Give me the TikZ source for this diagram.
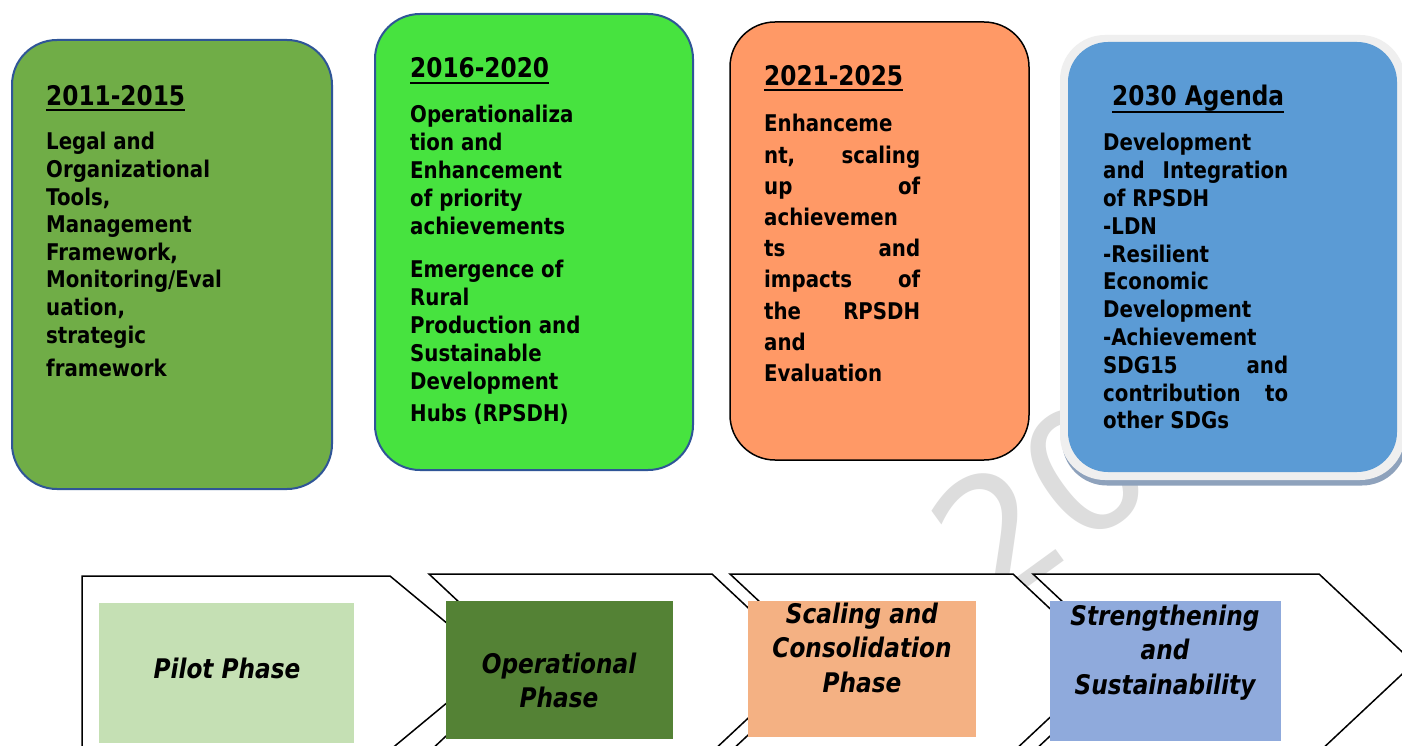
\documentclass[tikz,border=0pt]{standalone}
\usepackage{fontspec}
\setmainfont{DejaVu Sans}[FakeStretch=0.86]
\newfontfamily\wmfont{DejaVu Sans}
\definecolor{cBoxA}{HTML}{70AD47}
\definecolor{cBoxB}{HTML}{47E33F}
\definecolor{cBoxC}{HTML}{FF9966}
\definecolor{cBoxD}{HTML}{5B9BD5}
\definecolor{cEdge}{HTML}{2F5597}
\definecolor{cRim}{HTML}{EFEFEF}
\definecolor{cShadow}{HTML}{8EA2BC}
\definecolor{cPhA}{HTML}{C5E0B4}
\definecolor{cPhB}{HTML}{548235}
\definecolor{cPhC}{HTML}{F4B183}
\definecolor{cPhD}{HTML}{8FAADC}
\definecolor{cWm}{HTML}{DDDDDD}
\begin{document}
\begin{tikzpicture}[x=1pt,y=-1pt,
  card/.style={rectangle, rounded corners=45pt, inner sep=0pt, line width=2pt},
  chev/.style={draw=black, fill=white, line width=1.5pt, line join=miter},
  phasebox/.style={rectangle, inner sep=0pt, draw=none},
  phasetxt/.style={anchor=base, inner sep=0pt, font=\bfseries\itshape\fontsize{27}{34.5}\selectfont},
  ttl/.style={anchor=base west, inner sep=0pt, font=\bfseries\fontsize{27}{32}\selectfont},
  bodytxt/.style={anchor=base west, inner sep=0pt, font=\bfseries},
  uline/.style={line width=2pt}]
\useasboundingbox (0,0) rectangle (1402,746);
\clip (0,0) rectangle (1402,746);
\fill[white] (0,0) rectangle (1402,746);

% watermark
\node[anchor=base west, inner sep=0pt, rotate=36, text=cWm, font=\wmfont\fontsize{170}{170}\selectfont] (wm) at (990,615) {20};

% cards
\node[card, fill=cBoxA, draw=cEdge, minimum width=320pt, minimum height=449pt] (b1) at (172,264.5) {};
\node[card, fill=cBoxB, draw=cEdge, minimum width=318pt, minimum height=456pt] (b2) at (534,242) {};
\node[card, fill=cBoxC, draw=black, line width=1.5pt, minimum width=299pt, minimum height=438pt] (b3) at (879.5,241) {};
\node[card, fill=cShadow, minimum width=345pt, minimum height=445pt] (b4s) at (1234.5,263) {};
\node[card, fill=cRim, minimum width=345pt, minimum height=445pt] (b4r) at (1232.5,257.5) {};
\node[card, rounded corners=40pt, fill=cBoxD, minimum width=329pt, minimum height=430pt] (b4) at (1232.5,257) {};

% titles
\node[ttl] (t1) at (46,106) {2011-2015};
\node[ttl] (t2) at (410,78) {2016-2020};
\node[ttl] (t3) at (764,86) {2021-2025};
\node[ttl] (t4) at (1112,106) {2030 Agenda};
\draw[uline] ([yshift=-4pt]t1.base west) -- ([yshift=-4pt]t1.base east);
\draw[uline] ([yshift=-5pt]t2.base west) -- ([yshift=-5pt]t2.base east);
\draw[uline] ([yshift=-4pt]t3.base west) -- ([yshift=-4pt]t3.base east);
\draw[uline] ([yshift=-6pt]t4.base west) -- ([yshift=-6pt]t4.base east);

% bodies
\node[bodytxt] (d1) at (46,150) {\parbox[t]{270pt}{\raggedright\fontsize{23}{27.6}\selectfont
Legal and\\ Organizational\\ Tools,\\ Management\\ Framework,\\ Monitoring/Eval\\ uation,\\ strategic\\[6pt] framework}};
\node[bodytxt] (d2) at (410,123) {\parbox[t]{270pt}{\raggedright\fontsize{23}{28}\selectfont
Operationaliza\\ tion and\\ Enhancement\\ of priority\\ achievements\\[15pt]
Emergence of\\ Rural\\ Production and\\ Sustainable\\ Development\\[4pt] Hubs (RPSDH)}};
\node[bodytxt] (d3) at (764,132) {\parbox[t]{156pt}{\raggedright\fontsize{23}{31.2}\selectfont
Enhanceme\\ nt,\hfill scaling\\ up\hfill of\\ achievemen\\ ts\hfill and\\ impacts\hfill of\\ the\hfill RPSDH\\ and\\ Evaluation}};
\node[bodytxt] (d4) at (1103,151) {\parbox[t]{185pt}{\raggedright\fontsize{23}{27.8}\selectfont
Development\\ and\hfill Integration\\ of RPSDH\\ -LDN\\ -Resilient\\ Economic\\ Development\\ -Achievement\\ SDG15\hfill and\\ contribution\hfill to\\ other SDGs}};

% chevrons
\draw[chev] (82,760) -- (82,576) -- (390,576) -- (495,663) -- (390,750) -- (82,750);
\draw[chev] (429,574) -- (712,574) -- (807,663) -- (712,752) -- (429,752) -- (524,663) -- cycle;
\draw[chev] (730,574) -- (1013,574) -- (1108,663) -- (1013,752) -- (730,752) -- (825,663) -- cycle;
\draw[chev] (1033,574) -- (1319,574) -- (1414,663) -- (1319,752) -- (1033,752) -- (1128,663) -- cycle;

% phase boxes
\node[phasebox, fill=cPhA, minimum width=255pt, minimum height=140pt] (p1) at (226.5,673) {};
\node[phasebox, fill=cPhB, minimum width=227pt, minimum height=138pt] (p2) at (559.5,670) {};
\node[phasebox, fill=cPhC, minimum width=228pt, minimum height=136pt] (p3) at (862,669) {};
\node[phasebox, fill=cPhD, minimum width=231pt, minimum height=140pt] (p4) at (1165.5,671) {};

\node[phasetxt] (q1) at (227,678) {\parbox[t]{250pt}{\centering Pilot Phase}};
\node[phasetxt] (q2) at (559,673) {\parbox[t]{225pt}{\centering Operational\\ Phase}};
\node[phasetxt] (q3) at (862,623) {\parbox[t]{225pt}{\centering Scaling and\\ Consolidation\\ Phase}};
\node[phasetxt] (q4) at (1165,625) {\parbox[t]{230pt}{\centering Strengthening\\ and\\ Sustainability}};
\end{tikzpicture}
\end{document}
